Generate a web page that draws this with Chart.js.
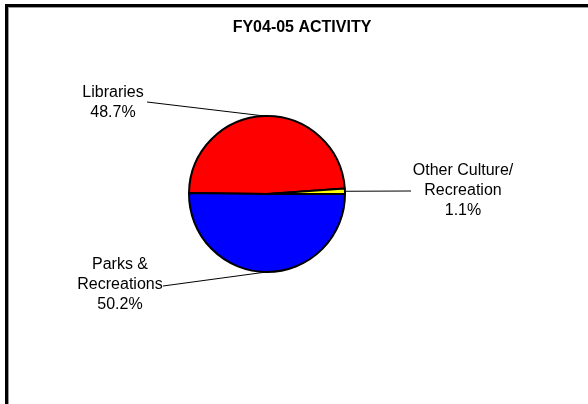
<!DOCTYPE html>
<html>
<head>
<meta charset="utf-8">
<title>FY04-05 Activity</title>
<script src="https://cdn.jsdelivr.net/npm/chart.js@4.4.1/dist/chart.umd.min.js"></script>
<style>
  html, body { margin: 0; padding: 0; background: #fff; overflow: hidden; }
  #frame {
    position: absolute; left: 5px; top: 4px;
    width: 640px; height: 460px;
    border-left: 3px solid #000; border-top: 3px solid #000;
    box-shadow: inset 1px 1px 0 #9a9a9a;
  }
  #wrap { position: absolute; left: 0; top: 0; width: 588px; height: 404px; }
</style>
</head>
<body>
<div id="frame"></div>
<div id="wrap"><canvas id="grafico" width="588" height="404"></canvas></div>
<script>
// categorias e valores (% do total)
const categorias = [['Libraries'], ['Other Culture/', 'Recreation'], ['Parks &', 'Recreations']];
const valores = [48.7, 1.1, 50.2];
const cores = ['#FF0000', '#FFFF00', '#0000FF'];

// posição de cada rótulo: centro do texto e ponto onde começa a linha guia
const posRotulos = [
    { x: 113, y: 93, ax: 147, ay: 102 },
    { x: 463, y: 171, ax: 411, ay: 191 },
    { x: 120, y: 265, ax: 163, ay: 286 }
];
const FONTE = '"Liberation Sans", Arial, sans-serif';

const rotulosPlugin = {
    id: 'rotulos',
    afterDraw(chart) {
        const ctx = chart.ctx;
        const arcs = chart.getDatasetMeta(0).data;
        ctx.save();

        // título
        ctx.fillStyle = '#000';
        ctx.font = 'bold 16px ' + FONTE;
        ctx.textAlign = 'center';
        ctx.textBaseline = 'middle';
        ctx.fillText('FY04-05 ACTIVITY', 302, 28);

        arcs.forEach((arc, i) => {
            const p = posRotulos[i];
            const meio = (arc.startAngle + arc.endAngle) / 2;
            const bx = arc.x + Math.cos(meio) * arc.outerRadius;
            const by = arc.y + Math.sin(meio) * arc.outerRadius;

            // linha guia
            ctx.strokeStyle = '#000';
            ctx.lineWidth = 1;
            ctx.beginPath();
            ctx.moveTo(p.ax, p.ay);
            ctx.lineTo(bx, by);
            ctx.stroke();

            // texto
            const linhas = categorias[i].concat([valores[i].toFixed(1) + '%']);
            ctx.font = '16px ' + FONTE;
            ctx.fillStyle = '#000';
            linhas.forEach((t, k) => ctx.fillText(t, p.x, p.y + k * 20));
        });
        ctx.restore();
    }
};

new Chart(document.getElementById('grafico'), {
    type: 'pie',
    data: {
        labels: categorias.map(c => c.join(' ')),
        datasets: [{
            data: valores,
            backgroundColor: cores,
            borderColor: '#000',
            borderWidth: 2
        }]
    },
    options: {
        responsive: false,
        animation: false,
        rotation: 270.7,
        layout: { padding: { left: 188, right: 242, top: 115, bottom: 131 } },
        plugins: {
            legend: { display: false },
            tooltip: { enabled: false }
        }
    },
    plugins: [rotulosPlugin]
});
</script>
</body>
</html>
